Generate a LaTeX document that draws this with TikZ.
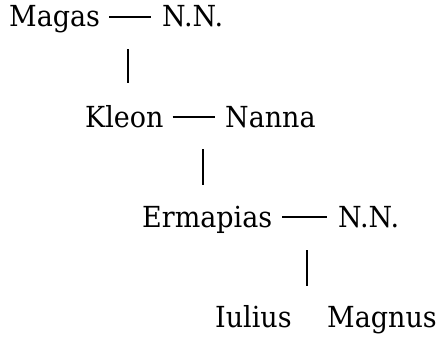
\documentclass[tikz,border=0pt]{standalone}
\usepackage{fontspec}
\setmainfont[FakeStretch=0.93]{DejaVu Serif}
\usetikzlibrary{calc}
\tikzset{
  person/.style={anchor=base west, inner sep=0pt, font=\fontsize{29}{34}\selectfont},
  conn/.style={line width=2pt},
  bar/.style={line width=2.4pt}
}
\begin{document}
\begin{tikzpicture}[x=1pt,y=-1pt]
\useasboundingbox (0,0) rectangle (441,338);
\node[person] (magas) at (9,26) {Magas};
\node[person] (nn1) at (162,26) {N.N.};
\node[person] (kleon) at (85,127) {Kleon};
\node[person] (nanna) at (225,127) {Nanna};
\node[person] (erm) at (142,227) {Ermapias};
\node[person] (nn2) at (338,227) {N.N.};
\node[person] (iul) at (215,327) {Iulius};
\node[person] (mag) at (327,327) {Magnus};
\draw[conn] ($(magas.base east)+(9pt,9pt)$) -- ($(nn1.base west)+(-11pt,9pt)$);
\draw[conn] ($(kleon.base east)+(9pt,10pt)$) -- ($(nanna.base west)+(-10pt,10pt)$);
\draw[conn] ($(erm.base east)+(10pt,10pt)$) -- ($(nn2.base west)+(-11pt,10pt)$);
\coordinate (v1a) at (128,49);
\coordinate (v1b) at (128,83);
\coordinate (v2a) at (203,149);
\coordinate (v2b) at (203,185);
\coordinate (v3a) at (307,250);
\coordinate (v3b) at (307,286);
\draw[bar] (v1a) -- (v1b);
\draw[bar] (v2a) -- (v2b);
\draw[bar] (v3a) -- (v3b);
\end{tikzpicture}
\end{document}
